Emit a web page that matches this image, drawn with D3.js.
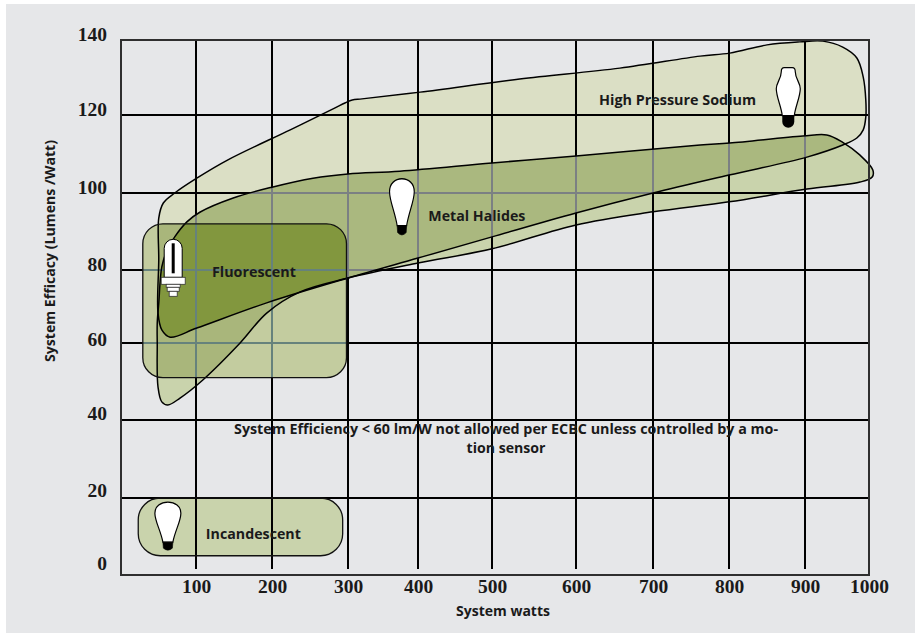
<!DOCTYPE html>
<html><head><meta charset="utf-8">
<script src="https://cdn.jsdelivr.net/npm/d3@7"></script>
<style>html,body{margin:0;padding:0;background:#fff}svg{display:block}</style>
</head><body><div id="chart"></div>
<script>
const xTicks=[100,200,300,400,500,600,700,800,900,1000];
const yTicks=[0,20,40,60,80,100,120,140];
const hpsOutline=[[51,93.5],[57,97.4],[72,100],[101,103.8],[142,108.5],[224,116.2],[283,121.9],[296,123.2],[306,124],[320,124.3],[403,126.1],[533,129.6],[657,132.5],[762,135.7],[801,136.5],[850,138.7],[893,139.5],[928,139.7],[959,138.1],[981,135.2],[991,130.1],[995,124],[995,119.5],[991,116.2],[981,114.1],[959,112.3],[903,109.2],[800,104.6],[700,100],[600,94.8],[500,88.6],[400,83.1],[300,77.8],[193,71],[101,64.1],[66,61.6],[55,63.6],[50,68.2],[51,82.6]];
const metalHalideOutline=[[72,88.6],[88,92.5],[105,95],[149,98.7],[200,101.5],[254,103.8],[300,104.9],[374,105.6],[500,107.7],[600,109.5],[762,112.3],[801,112.8],[897,114.6],[934,114.9],[959,113],[986,109.7],[1006,105.9],[1005,104.1],[986,102.8],[903,101],[800,97.7],[700,95.1],[600,91.7],[500,85.5],[400,81.8],[300,77.8],[237,74],[193,68.2],[158,60],[109,50.4],[79,45.7],[63,43.9],[55,44.7],[50,48.6],[49,60],[49,65.5],[51,70.9],[55,80.8],[62,85.2]];
const fluorescentBox=[[30,51],[298,92]];
const incandescentBox=[[24,5],[293,20]];
const regionLabels=[["High Pressure Sodium",630,122.7,157],["Metal Halides",414,92.7,97],["Fluorescent",121,78,84],["Incandescent",113,9.4,95]];
const noteLines=[["System Efficiency < 60 lm/W not allowed per ECBC unless controlled by a mo-",544],["tion sensor",79]];

const W=915,H=633;
const x=d3.scaleLinear().domain([0,...xTicks]).range([120,196,272,348,418,492,576,653,729,805,869]);
const y=d3.scaleLinear().domain(yTicks).range([575,498,420,343,270,193,115,40]);
const yLabel=d3.scaleLinear().domain(yTicks).range([570,497,420,346,271,194,116,41]);
const closed=d3.line().x(d=>x(d[0])).y(d=>y(d[1])).curve(d3.curveCatmullRomClosed.alpha(0.5));
const svg=d3.select("#chart").append("svg").attr("width",W).attr("height",H);
svg.append("rect").attr("x",6).attr("y",4).attr("width",W-6).attr("height",H-4).attr("fill","#e6e7e9");
const defs=svg.append("defs");
defs.append("clipPath").attr("id","cHps").append("path").attr("d",closed(hpsOutline));
defs.append("clipPath").attr("id","cMh").append("path").attr("d",closed(metalHalideOutline));
const boxAttrs=(s,b,r)=>s.attr("x",x(b[0][0])).attr("y",y(b[1][1])).attr("width",x(b[1][0])-x(b[0][0])).attr("height",y(b[0][1])-y(b[1][1])).attr("rx",r).attr("ry",r);
defs.append("clipPath").attr("id","cFl").append("rect").call(boxAttrs,fluorescentBox,20);

function grid(g,color){
  g.append("g").selectAll("line").data(xTicks.slice(0,9)).join("line")
    .attr("x1",d=>x(d)).attr("x2",d=>x(d)).attr("y1",y(140)).attr("y2",569)
    .attr("stroke",color).attr("stroke-width",2);
  g.append("g").selectAll("line").data(yTicks.slice(1,7)).join("line")
    .attr("x1",x(0)).attr("x2",x(1000)).attr("y1",d=>y(d)).attr("y2",d=>y(d))
    .attr("stroke",color).attr("stroke-width",2);
}
// base fills and black grid
svg.append("path").attr("d",closed(hpsOutline)).attr("fill","#dbdfc5");
svg.append("path").attr("d",closed(metalHalideOutline)).attr("fill","#c9d3ac");
svg.append("rect").call(boxAttrs,incandescentBox,22).attr("fill","#c9d3ac");
grid(svg,"#000");
// HPS + MH overlap
const ov=svg.append("g").attr("clip-path","url(#cHps)");
ov.append("path").attr("d",closed(metalHalideOutline)).attr("fill","#aab87f");
grid(ov.append("g").attr("clip-path","url(#cMh)"),"#7b8083");
// fluorescent box
const fl=svg.append("g").attr("clip-path","url(#cFl)");
fl.append("rect").attr("width",W).attr("height",H).attr("fill","#c3cc9f");
fl.append("path").attr("d",closed(hpsOutline)).attr("fill","#a9b67b");
fl.append("path").attr("d",closed(metalHalideOutline)).attr("fill","#a9b67b");
fl.append("g").attr("clip-path","url(#cHps)").append("g").attr("clip-path","url(#cMh)")
  .append("rect").attr("width",W).attr("height",H).attr("fill","#82973e");
grid(fl,"#66827c");
// outlines
[hpsOutline,metalHalideOutline].forEach(o=>svg.append("path").attr("d",closed(o)).attr("fill","none").attr("stroke","#000").attr("stroke-width",1.5));
svg.append("rect").call(boxAttrs,fluorescentBox,20).attr("fill","none").attr("stroke","#111").attr("stroke-width",1.3);
svg.append("rect").call(boxAttrs,incandescentBox,22).attr("fill","none").attr("stroke","#111").attr("stroke-width",1.3);
// frame
svg.append("path").attr("d",`M${x(0)+1},${y(140)}H${x(1000)}V${y(0)}H${x(0)+1}Z`).attr("fill","none").attr("stroke","#2f2f2f").attr("stroke-width",2);

// bulbs
function bulb(wx,ey,sx,sy){
  const g=svg.append("g").attr("transform",`translate(${x(wx)},${y(ey)}) scale(${sx},${sy})`);
  g.append("path").attr("d","M-5,-9C-7,-20-13,-30-13,-38C-13,-45-7,-49 0,-49C7,-49 13,-45 13,-38C13,-30 7,-20 5,-9Z").attr("fill","#fff").attr("stroke","#000").attr("stroke-width",1.2);
  g.append("path").attr("d","M-5,-9L5,-9L4.5,-3Q0,1-4.5,-3Z").attr("fill","#000").attr("stroke","#000").attr("stroke-width",.6);
}
bulb(63,6.2,1,1);
bulb(377,88.8,.95,1.17);
const hb=svg.append("g").attr("transform",`translate(${x(878)},${y(117)})`);
hb.append("path").attr("d","M-6,-11C-7,-20-12,-30-12,-38C-12,-44-7,-48-7,-55Q-7,-59-4,-59L4,-59Q7,-59 7,-55C7,-48 12,-44 12,-38C12,-30 7,-20 6,-11Z").attr("fill","#fff").attr("stroke","#000").attr("stroke-width",1.2);
hb.append("path").attr("d","M-6,-11L6,-11L6,-5A6,6 0 0 1-6,-5Z").attr("fill","#000");
const fb=svg.append("g").attr("transform",`translate(${x(70)},${y(78)})`);
fb.append("path").attr("d","M-9,0V-29A9,9 0 0 1 9,-29V0Z").attr("fill","#fff").attr("stroke","#000").attr("stroke-width",1);
fb.append("rect").attr("x",-1.5).attr("y",-34).attr("width",3).attr("height",30).attr("fill","#000");
[[-12,0,24,7],[-7,7,14,3],[-6,10,12,4],[-4,14,8,5]].forEach(r=>fb.append("rect").attr("x",r[0]).attr("y",r[1]).attr("width",r[2]).attr("height",r[3]).attr("fill","#fff").attr("stroke","#333").attr("stroke-width",.8));

// text
const sans="'Open Sans',sans-serif", serif="'Liberation Serif',serif";
const fs=13.5;
const label=(t,px,py,len,anchor)=>svg.append("text").text(t).attr("x",px).attr("y",py).attr("font-family",sans).attr("font-weight",700).attr("font-size",fs).attr("fill","#1a1a1a").attr("text-anchor",anchor||"start").attr("textLength",len).attr("lengthAdjust","spacingAndGlyphs");
regionLabels.forEach(d=>label(d[0],x(d[1]),y(d[2]),d[3]));
noteLines.forEach((d,i)=>label(d[0],506,434+i*19,d[1],"middle"));
label("System watts",503,616,94,"middle");
svg.append("text").text("System Efficacy (Lumens /Watt)").attr("transform","translate(55,251) rotate(-90)")
  .attr("text-anchor","middle").attr("font-family",sans).attr("font-weight",700).attr("font-size",fs).attr("fill","#1a1a1a").attr("textLength",222).attr("lengthAdjust","spacingAndGlyphs");
// tick labels
const ax=svg.append("g").attr("transform","translate(0,593)").call(d3.axisBottom(x).tickValues(xTicks).tickFormat(d3.format("d")).tickSize(0).tickPadding(0));
ax.select(".domain").remove();
ax.selectAll("text").attr("y",0).attr("dy",0);
svg.append("g").selectAll("text").data(yTicks).join("text").text(d=>d).attr("x",107).attr("y",d=>yLabel(d)).attr("text-anchor","end").attr("class","yt");
svg.selectAll(".yt").attr("font-family",serif).attr("font-weight",700).attr("font-size",19.5).attr("fill","#1a1a1a");
ax.selectAll("text").attr("font-family",serif).attr("font-weight",700).attr("font-size",19.5).attr("fill","#1a1a1a");
</script></body></html>
